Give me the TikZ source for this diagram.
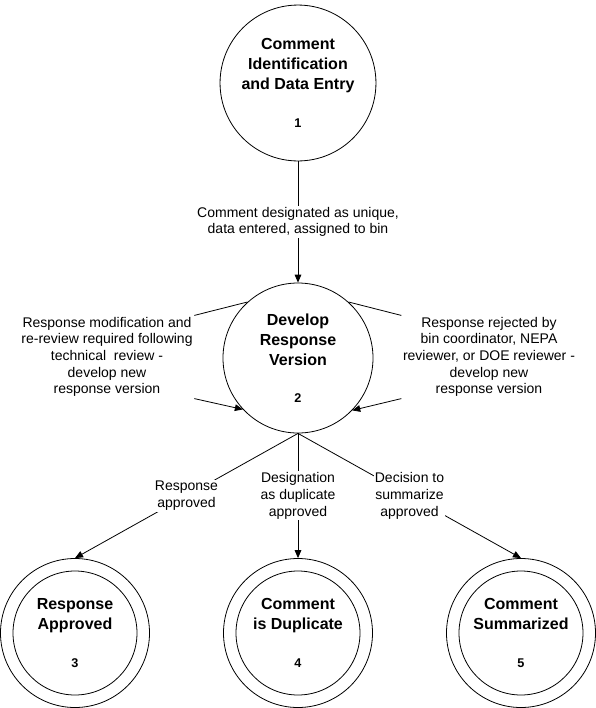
\documentclass[tikz,border=0pt]{standalone}
\usepackage{fontspec}
\setmainfont{Liberation Sans}
\usetikzlibrary{arrows.meta}
\newcommand*{\Num}[1]{{\fontsize{9.5}{11}\selectfont #1}}

\begin{document}
\begin{tikzpicture}[x=0.75pt, y=-0.75pt, line width=0.6pt,
    proc/.style={draw, circle, align=center, font=\fontsize{12}{15}\selectfont\bfseries},
    note/.style={align=center, font=\fontsize{10.5}{12.5}\selectfont, inner sep=1pt},
    flow/.style={-{Triangle[length=6pt,width=5pt]}}]
    \useasboundingbox (0,0) rectangle (596,708);
    % Nodes
    \node[proc, minimum size=108pt] (ident) at (298,83) {Comment\\Identification\\and Data Entry\\[13pt]\Num{1}};
    \node[proc, minimum size=112.5pt] (dev) at (298,358) {Develop\\Response\\Version\\[13pt]\Num{2}};
    \node[proc, minimum size=111.75pt] (resp) at (75,633) {Response\\Approved\\[13pt]\Num{3}};
    \draw (resp) circle (46.5pt);
    \node[proc, minimum size=111.75pt] (dup) at (298,633) {Comment\\is Duplicate\\[13pt]\Num{4}};
    \draw (dup) circle (46.5pt);
    \node[proc, minimum size=111.75pt] (summ) at (521,633) {Comment\\Summarized\\[13pt]\Num{5}};
    \draw (summ) circle (46.5pt);
    % Top arrow
    \draw[flow] (ident) -- (dev) node[note, fill=white, midway] {Comment designated as unique,\\data entered, assigned to bin};
    % Left loop
    \node[note] (leftnote) at (107,357) {Response modification and\\re-review required following\\technical\ \ review -\\develop new\\response version};
    \draw (dev.132) -- (leftnote.north east);
    \draw[flow] (leftnote.south east) -- (dev.223);
    % Right loop
    \node[note] (rightnote) at (489,357) {Response rejected by\\bin coordinator, NEPA\\reviewer, or DOE reviewer -\\develop new\\response version};
    \draw (dev.48) -- (rightnote.north west);
    \draw[flow] (rightnote.south west) -- (dev.316);
    % Bottom arrows
    \draw[flow] (dev.south) -- (resp.north) node[note, fill=white, midway] {Response\\approved};
    \draw[flow] (dev.south) -- (dup.north) node[note, fill=white, midway] {Designation\\as duplicate\\approved};
    \draw[flow] (dev.south) -- (summ.north) node[note, fill=white, midway] {Decision to\\summarize\\approved};
\end{tikzpicture}
\end{document}
